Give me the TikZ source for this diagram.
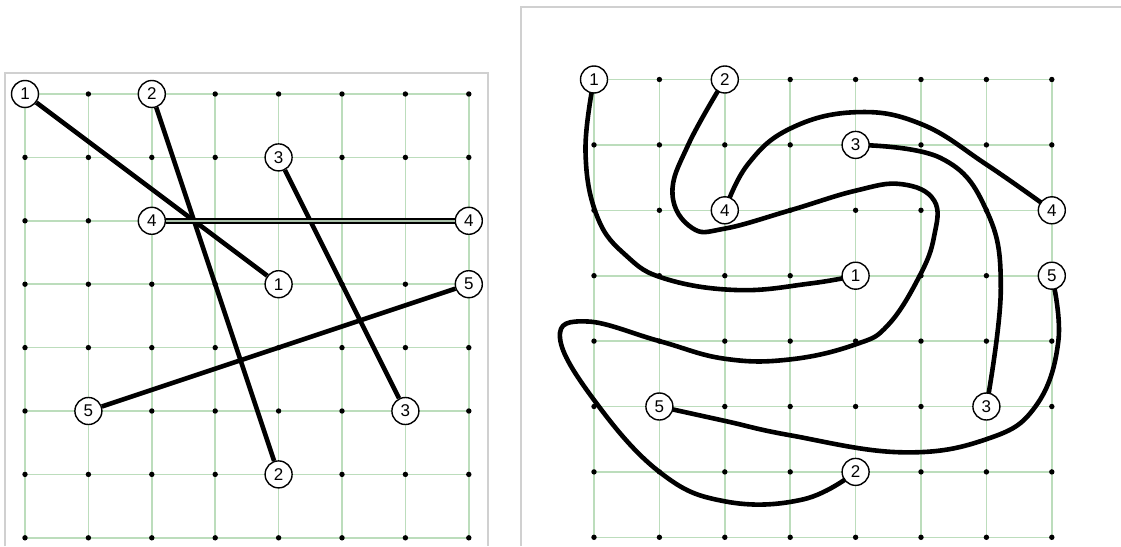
\documentclass[tikz,border=0pt]{standalone}
\usepackage{fontspec}
\setmainfont{Liberation Sans}
\definecolor{gridgreen}{HTML}{BCDDBC}
\definecolor{framegray}{HTML}{D0D0D0}
\pgfdeclarelayer{gridlayer}
\pgfdeclarelayer{wirelayer}
\pgfsetlayers{gridlayer,wirelayer,main}

\begin{document}
\begin{tikzpicture}[x=1pt, y=1pt,
  gridline/.style={gridgreen, line width=1.6pt},
  frameline/.style={framegray, line width=1.2pt},
  endpt/.style={circle, draw, fill=white, line width=1.4pt, minimum size=27pt, inner sep=0pt, font=\fontsize{17}{17}\selectfont},
  wire/.style={line width=4.6pt, line join=round},
  twinwire/.style={line width=1.7pt, double=gridgreen!70!gray, double distance=2pt}]
  \useasboundingbox (0,0) rectangle (1121,-546);

  % panel frames
  \draw[frameline] (5,-546) -- (5,-73) -- (488,-73) -- (488,-546);
  \draw[frameline] (521,-546) -- (521,-7) -- (1121,-7);

  % Left board: straight wires
  \begin{scope}[shift={(25,-94)}, x=63.4pt, y=-63.4pt]
    \begin{pgfonlayer}{gridlayer}
      \foreach \i in {0,...,7} {
        \draw[gridline] (\i,0) -- (\i,7);
        \draw[gridline] (0,\i) -- (7,\i);
      }
      \foreach \i in {0,...,7} \foreach \j in {0,...,7} \fill (\i,\j) circle (2.7pt);
    \end{pgfonlayer}
    \node[endpt] (l1a) at (0,0) {1};
    \node[endpt] (l1b) at (4,3) {1};
    \node[endpt] (l2a) at (2,0) {2};
    \node[endpt] (l2b) at (4,6) {2};
    \node[endpt] (l3a) at (4,1) {3};
    \node[endpt] (l3b) at (6,5) {3};
    \node[endpt] (l4a) at (2,2) {4};
    \node[endpt] (l4b) at (7,2) {4};
    \node[endpt] (l5a) at (1,5) {5};
    \node[endpt] (l5b) at (7,3) {5};
    \draw[wire] (l1a) -- (l1b);
    \draw[wire] (l2a) -- (l2b);
    \draw[wire] (l3a) -- (l3b);
    \draw[twinwire] (l4a) -- (l4b);
    \draw[wire] (l5a) -- (l5b);
  \end{scope}

  % Right board: curved wires
  \begin{scope}[shift={(594,-79.5)}, x=65.4pt, y=-65.4pt]
    \begin{pgfonlayer}{gridlayer}
      \foreach \i in {0,...,7} {
        \draw[gridline] (\i,0) -- (\i,7);
        \draw[gridline] (0,\i) -- (7,\i);
      }
      \foreach \i in {0,...,7} \foreach \j in {0,...,7} \fill (\i,\j) circle (2.7pt);
    \end{pgfonlayer}
    \node[endpt] (r1a) at (0,0) {1};
    \node[endpt] (r1b) at (4,3) {1};
    \node[endpt] (r2a) at (2,0) {2};
    \node[endpt] (r2b) at (4,6) {2};
    \node[endpt] (r3a) at (4,1) {3};
    \node[endpt] (r3b) at (6,5) {3};
    \node[endpt] (r4a) at (2,2) {4};
    \node[endpt] (r4b) at (7,2) {4};
    \node[endpt] (r5a) at (1,5) {5};
    \node[endpt] (r5b) at (7,3) {5};
    \begin{pgfonlayer}{wirelayer}
      \draw[wire] plot[smooth, tension=0.7] coordinates {(r1a.center) (-0.13,1.1) (0.05,2.1) (0.5,2.7) (1.1,3.05) (2.2,3.22) (3.3,3.12) (r1b.center)};
      \draw[wire] plot[smooth, tension=0.7] coordinates {(r2a.center) (1.44,1.0) (1.2,1.75) (1.5,2.27) (2.0,2.28) (3.0,2.0) (4.0,1.7) (4.7,1.6) (5.2,1.85) (5.2,2.4) (4.98,3.0) (4.5,3.75) (4.0,4.05) (3.0,4.28) (2.0,4.27) (1.0,4.0) (-0.1,3.7) (-0.52,3.95) (0,4.9) (1.0,6.0) (2.0,6.45) (3.2,6.42) (r2b.center)};
      \draw[wire] plot[smooth, tension=0.7] coordinates {(r3a.center) (5.3,1.2) (6.0,2.0) (6.22,3.2) (r3b.center)};
      \draw[wire] plot[smooth, tension=0.7] coordinates {(r4a.center) (2.35,1.3) (3.0,0.75) (4.0,0.5) (5.0,0.68) (6.0,1.3) (r4b.center)};
      \draw[wire] plot[smooth, tension=0.7] coordinates {(r5a.center) (2.0,5.22) (3.0,5.44) (4.7,5.7) (6.0,5.5) (6.75,5.0) (7.1,4.0) (r5b.center)};
    \end{pgfonlayer}
  \end{scope}
\end{tikzpicture}
\end{document}
